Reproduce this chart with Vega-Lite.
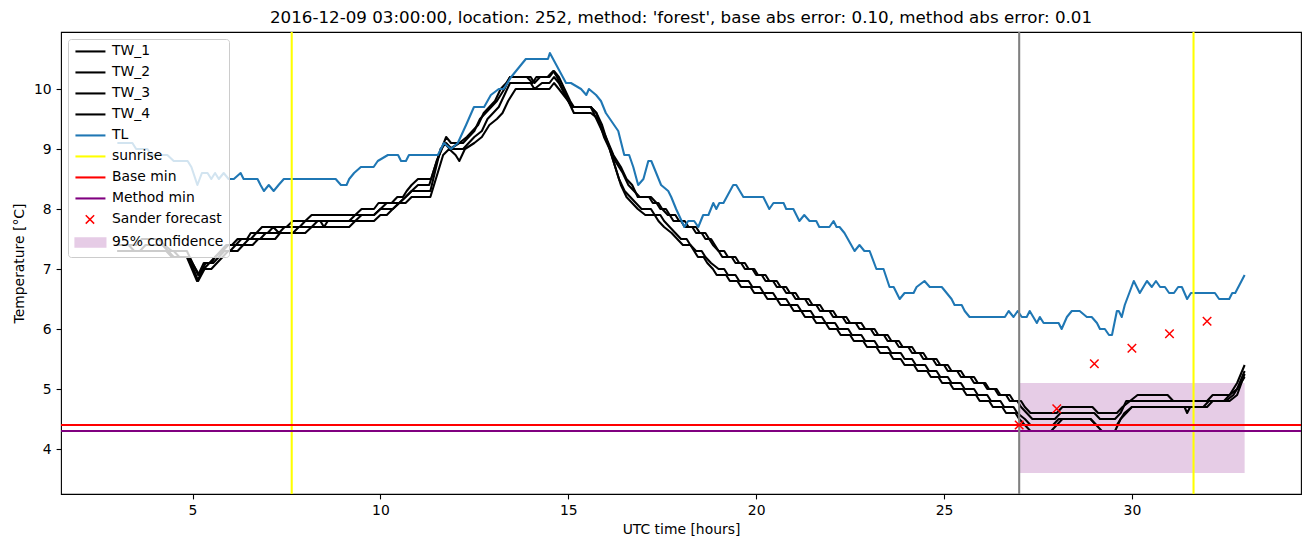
{
"$schema": "https://vega.github.io/schema/vega-lite/v6.json",
"width": 1240, "height": 462,
"autosize": {"type": "none"},
"padding": {"left": 61, "top": 32, "right": 9, "bottom": 53},
"title": {"text": "2016-12-09 03:00:00, location: 252, method: 'forest', base abs error: 0.10, method abs error: 0.01", "font": "DejaVu Sans", "fontSize": 16.7, "fontWeight": "normal", "color": "#000000", "offset": 5},
"config": {
  "view": {"stroke": "#000000", "strokeWidth": 1.1},
  "axis": {"labelFont": "DejaVu Sans", "labelFontSize": 13.9, "labelColor": "#000000", "titleFont": "DejaVu Sans", "titleFontSize": 13.9, "titleFontWeight": "normal", "titleColor": "#000000", "tickColor": "#000000", "tickSize": 4.9, "tickWidth": 1.1, "domain": false, "grid": false, "labelPadding": 4.9, "titlePadding": 5},
  "axisY": {"titlePadding": 7}
},
"datasets": {
"lines": [
{"s":"TW_1","h":3,"t":7.4},{"s":"TW_1","h":3.5,"t":7.4},{"s":"TW_1","h":3.65,"t":7.5},{"s":"TW_1","h":4.1,"t":7.5},{"s":"TW_1","h":4.25,"t":7.4},{"s":"TW_1","h":4.45,"t":7.3},{"s":"TW_1","h":4.85,"t":7.3},{"s":"TW_1","h":5.15,"t":6.9},{"s":"TW_1","h":5.3,"t":7.1},{"s":"TW_1","h":5.5,"t":7.1},{"s":"TW_1","h":5.6,"t":7.2},{"s":"TW_1","h":5.75,"t":7.3},{"s":"TW_1","h":5.9,"t":7.4},{"s":"TW_1","h":6.05,"t":7.4},{"s":"TW_1","h":6.2,"t":7.5},{"s":"TW_1","h":6.45,"t":7.5},{"s":"TW_1","h":6.55,"t":7.6},{"s":"TW_1","h":6.7,"t":7.6},{"s":"TW_1","h":6.85,"t":7.7},{"s":"TW_1","h":7.5,"t":7.7},{"s":"TW_1","h":7.67,"t":7.8},{"s":"TW_1","h":8,"t":7.8},{"s":"TW_1","h":8.17,"t":7.9},{"s":"TW_1","h":9.33,"t":7.9},{"s":"TW_1","h":9.5,"t":8},{"s":"TW_1","h":9.83,"t":8},{"s":"TW_1","h":9.95,"t":8.1},{"s":"TW_1","h":10.3,"t":8.1},{"s":"TW_1","h":10.45,"t":8.2},{"s":"TW_1","h":10.6,"t":8.2},{"s":"TW_1","h":10.7,"t":8.3},{"s":"TW_1","h":10.83,"t":8.4},{"s":"TW_1","h":11,"t":8.5},{"s":"TW_1","h":11.35,"t":8.5},{"s":"TW_1","h":11.5,"t":8.8},{"s":"TW_1","h":11.75,"t":9.2},{"s":"TW_1","h":11.88,"t":9.1},{"s":"TW_1","h":12.2,"t":9.1},{"s":"TW_1","h":12.35,"t":9.2},{"s":"TW_1","h":12.5,"t":9.3},{"s":"TW_1","h":12.65,"t":9.5},{"s":"TW_1","h":12.8,"t":9.6},{"s":"TW_1","h":12.95,"t":9.7},{"s":"TW_1","h":13.1,"t":9.8},{"s":"TW_1","h":13.2,"t":9.9},{"s":"TW_1","h":13.3,"t":10},{"s":"TW_1","h":13.45,"t":10.2},{"s":"TW_1","h":14,"t":10.2},{"s":"TW_1","h":14.1,"t":10.1},{"s":"TW_1","h":14.25,"t":10.2},{"s":"TW_1","h":14.5,"t":10.2},{"s":"TW_1","h":14.62,"t":10.3},{"s":"TW_1","h":14.75,"t":10.2},{"s":"TW_1","h":15.05,"t":9.8},{"s":"TW_1","h":15.15,"t":9.7},{"s":"TW_1","h":15.6,"t":9.7},{"s":"TW_1","h":15.75,"t":9.6},{"s":"TW_1","h":15.85,"t":9.4},{"s":"TW_1","h":16,"t":9.2},{"s":"TW_1","h":16.2,"t":8.9},{"s":"TW_1","h":16.4,"t":8.7},{"s":"TW_1","h":16.55,"t":8.5},{"s":"TW_1","h":16.7,"t":8.4},{"s":"TW_1","h":16.85,"t":8.2},{"s":"TW_1","h":17.2,"t":8.2},{"s":"TW_1","h":17.35,"t":8.1},{"s":"TW_1","h":17.45,"t":8},{"s":"TW_1","h":17.6,"t":8},{"s":"TW_1","h":17.7,"t":7.9},{"s":"TW_1","h":17.8,"t":7.8},{"s":"TW_1","h":18,"t":7.8},{"s":"TW_1","h":18.1,"t":7.7},{"s":"TW_1","h":18.3,"t":7.7},{"s":"TW_1","h":18.4,"t":7.6},{"s":"TW_1","h":18.55,"t":7.6},{"s":"TW_1","h":18.65,"t":7.5},{"s":"TW_1","h":18.8,"t":7.5},{"s":"TW_1","h":18.9,"t":7.4},{"s":"TW_1","h":19,"t":7.3},{"s":"TW_1","h":19.15,"t":7.3},{"s":"TW_1","h":19.25,"t":7.2},{"s":"TW_1","h":19.45,"t":7.2},{"s":"TW_1","h":19.55,"t":7.1},{"s":"TW_1","h":19.7,"t":7.1},{"s":"TW_1","h":19.8,"t":7},{"s":"TW_1","h":19.95,"t":7},{"s":"TW_1","h":20.05,"t":6.9},{"s":"TW_1","h":20.25,"t":6.9},{"s":"TW_1","h":20.35,"t":6.8},{"s":"TW_1","h":20.55,"t":6.8},{"s":"TW_1","h":20.65,"t":6.7},{"s":"TW_1","h":20.8,"t":6.7},{"s":"TW_1","h":20.9,"t":6.6},{"s":"TW_1","h":21.05,"t":6.6},{"s":"TW_1","h":21.15,"t":6.5},{"s":"TW_1","h":21.4,"t":6.5},{"s":"TW_1","h":21.5,"t":6.4},{"s":"TW_1","h":21.7,"t":6.4},{"s":"TW_1","h":21.8,"t":6.3},{"s":"TW_1","h":22.05,"t":6.3},{"s":"TW_1","h":22.15,"t":6.2},{"s":"TW_1","h":22.4,"t":6.2},{"s":"TW_1","h":22.5,"t":6.1},{"s":"TW_1","h":22.8,"t":6.1},{"s":"TW_1","h":22.9,"t":6},{"s":"TW_1","h":23.15,"t":6},{"s":"TW_1","h":23.25,"t":5.9},{"s":"TW_1","h":23.5,"t":5.9},{"s":"TW_1","h":23.6,"t":5.8},{"s":"TW_1","h":23.8,"t":5.8},{"s":"TW_1","h":23.9,"t":5.7},{"s":"TW_1","h":24.15,"t":5.7},{"s":"TW_1","h":24.25,"t":5.6},{"s":"TW_1","h":24.45,"t":5.6},{"s":"TW_1","h":24.55,"t":5.5},{"s":"TW_1","h":24.8,"t":5.5},{"s":"TW_1","h":24.9,"t":5.4},{"s":"TW_1","h":25.1,"t":5.4},{"s":"TW_1","h":25.2,"t":5.3},{"s":"TW_1","h":25.45,"t":5.3},{"s":"TW_1","h":25.55,"t":5.2},{"s":"TW_1","h":25.8,"t":5.2},{"s":"TW_1","h":25.9,"t":5.1},{"s":"TW_1","h":26.1,"t":5.1},{"s":"TW_1","h":26.2,"t":5},{"s":"TW_1","h":26.4,"t":5},{"s":"TW_1","h":26.5,"t":4.9},{"s":"TW_1","h":26.75,"t":4.9},{"s":"TW_1","h":26.85,"t":4.8},{"s":"TW_1","h":27.05,"t":4.8},{"s":"TW_1","h":27.15,"t":4.7},{"s":"TW_1","h":27.3,"t":4.6},{"s":"TW_1","h":28,"t":4.6},{"s":"TW_1","h":28.15,"t":4.7},{"s":"TW_1","h":28.95,"t":4.7},{"s":"TW_1","h":29.1,"t":4.6},{"s":"TW_1","h":29.6,"t":4.6},{"s":"TW_1","h":29.75,"t":4.7},{"s":"TW_1","h":29.95,"t":4.8},{"s":"TW_1","h":30.15,"t":4.9},{"s":"TW_1","h":30.95,"t":4.9},{"s":"TW_1","h":31.1,"t":4.8},{"s":"TW_1","h":32,"t":4.8},{"s":"TW_1","h":32.15,"t":4.9},{"s":"TW_1","h":32.6,"t":4.9},{"s":"TW_1","h":32.8,"t":5.1},{"s":"TW_1","h":33,"t":5.4},
{"s":"TW_2","h":3,"t":7.3},{"s":"TW_2","h":3.6,"t":7.3},{"s":"TW_2","h":3.75,"t":7.4},{"s":"TW_2","h":4.2,"t":7.4},{"s":"TW_2","h":4.35,"t":7.3},{"s":"TW_2","h":4.5,"t":7.2},{"s":"TW_2","h":4.85,"t":7.2},{"s":"TW_2","h":5.12,"t":6.8},{"s":"TW_2","h":5.3,"t":7},{"s":"TW_2","h":5.45,"t":7.1},{"s":"TW_2","h":5.6,"t":7.2},{"s":"TW_2","h":5.8,"t":7.3},{"s":"TW_2","h":5.95,"t":7.4},{"s":"TW_2","h":6.15,"t":7.4},{"s":"TW_2","h":6.3,"t":7.5},{"s":"TW_2","h":6.55,"t":7.5},{"s":"TW_2","h":6.7,"t":7.6},{"s":"TW_2","h":7,"t":7.6},{"s":"TW_2","h":7.15,"t":7.7},{"s":"TW_2","h":7.3,"t":7.6},{"s":"TW_2","h":7.45,"t":7.7},{"s":"TW_2","h":7.85,"t":7.7},{"s":"TW_2","h":8,"t":7.8},{"s":"TW_2","h":8.4,"t":7.8},{"s":"TW_2","h":8.5,"t":7.7},{"s":"TW_2","h":8.6,"t":7.8},{"s":"TW_2","h":9.17,"t":7.8},{"s":"TW_2","h":9.33,"t":7.9},{"s":"TW_2","h":9.83,"t":7.9},{"s":"TW_2","h":10,"t":8},{"s":"TW_2","h":10.33,"t":8},{"s":"TW_2","h":10.5,"t":8.1},{"s":"TW_2","h":10.67,"t":8.2},{"s":"TW_2","h":10.83,"t":8.3},{"s":"TW_2","h":11,"t":8.4},{"s":"TW_2","h":11.3,"t":8.4},{"s":"TW_2","h":11.5,"t":8.8},{"s":"TW_2","h":11.7,"t":9.1},{"s":"TW_2","h":11.85,"t":9},{"s":"TW_2","h":12.1,"t":9.1},{"s":"TW_2","h":12.3,"t":9.2},{"s":"TW_2","h":12.45,"t":9.3},{"s":"TW_2","h":12.6,"t":9.4},{"s":"TW_2","h":12.75,"t":9.6},{"s":"TW_2","h":12.9,"t":9.7},{"s":"TW_2","h":13.05,"t":9.8},{"s":"TW_2","h":13.2,"t":10},{"s":"TW_2","h":13.35,"t":10.1},{"s":"TW_2","h":13.45,"t":10.2},{"s":"TW_2","h":13.9,"t":10.2},{"s":"TW_2","h":14.05,"t":10.1},{"s":"TW_2","h":14.15,"t":10.2},{"s":"TW_2","h":14.45,"t":10.2},{"s":"TW_2","h":14.6,"t":10.3},{"s":"TW_2","h":14.7,"t":10.2},{"s":"TW_2","h":15,"t":9.8},{"s":"TW_2","h":15.1,"t":9.7},{"s":"TW_2","h":15.6,"t":9.7},{"s":"TW_2","h":15.75,"t":9.5},{"s":"TW_2","h":15.9,"t":9.3},{"s":"TW_2","h":16.05,"t":9.1},{"s":"TW_2","h":16.25,"t":8.8},{"s":"TW_2","h":16.45,"t":8.6},{"s":"TW_2","h":16.6,"t":8.4},{"s":"TW_2","h":16.75,"t":8.3},{"s":"TW_2","h":16.9,"t":8.2},{"s":"TW_2","h":17.15,"t":8.2},{"s":"TW_2","h":17.25,"t":8.1},{"s":"TW_2","h":17.4,"t":8.1},{"s":"TW_2","h":17.5,"t":8},{"s":"TW_2","h":17.65,"t":7.9},{"s":"TW_2","h":17.85,"t":7.9},{"s":"TW_2","h":17.95,"t":7.8},{"s":"TW_2","h":18.1,"t":7.8},{"s":"TW_2","h":18.2,"t":7.7},{"s":"TW_2","h":18.4,"t":7.7},{"s":"TW_2","h":18.5,"t":7.6},{"s":"TW_2","h":18.65,"t":7.6},{"s":"TW_2","h":18.75,"t":7.5},{"s":"TW_2","h":18.85,"t":7.4},{"s":"TW_2","h":19,"t":7.3},{"s":"TW_2","h":19.1,"t":7.2},{"s":"TW_2","h":19.35,"t":7.2},{"s":"TW_2","h":19.45,"t":7.1},{"s":"TW_2","h":19.6,"t":7.1},{"s":"TW_2","h":19.7,"t":7},{"s":"TW_2","h":19.9,"t":7},{"s":"TW_2","h":20,"t":6.9},{"s":"TW_2","h":20.15,"t":6.9},{"s":"TW_2","h":20.25,"t":6.8},{"s":"TW_2","h":20.45,"t":6.8},{"s":"TW_2","h":20.55,"t":6.7},{"s":"TW_2","h":20.7,"t":6.7},{"s":"TW_2","h":20.8,"t":6.6},{"s":"TW_2","h":20.95,"t":6.6},{"s":"TW_2","h":21.05,"t":6.5},{"s":"TW_2","h":21.3,"t":6.5},{"s":"TW_2","h":21.4,"t":6.4},{"s":"TW_2","h":21.6,"t":6.4},{"s":"TW_2","h":21.7,"t":6.3},{"s":"TW_2","h":21.95,"t":6.3},{"s":"TW_2","h":22.05,"t":6.2},{"s":"TW_2","h":22.3,"t":6.2},{"s":"TW_2","h":22.4,"t":6.1},{"s":"TW_2","h":22.65,"t":6.1},{"s":"TW_2","h":22.75,"t":6},{"s":"TW_2","h":23.05,"t":6},{"s":"TW_2","h":23.15,"t":5.9},{"s":"TW_2","h":23.4,"t":5.9},{"s":"TW_2","h":23.5,"t":5.8},{"s":"TW_2","h":23.7,"t":5.8},{"s":"TW_2","h":23.8,"t":5.7},{"s":"TW_2","h":24.05,"t":5.7},{"s":"TW_2","h":24.15,"t":5.6},{"s":"TW_2","h":24.35,"t":5.6},{"s":"TW_2","h":24.45,"t":5.5},{"s":"TW_2","h":24.7,"t":5.5},{"s":"TW_2","h":24.8,"t":5.4},{"s":"TW_2","h":25,"t":5.4},{"s":"TW_2","h":25.1,"t":5.3},{"s":"TW_2","h":25.35,"t":5.3},{"s":"TW_2","h":25.45,"t":5.2},{"s":"TW_2","h":25.7,"t":5.2},{"s":"TW_2","h":25.8,"t":5.1},{"s":"TW_2","h":26.05,"t":5.1},{"s":"TW_2","h":26.15,"t":5},{"s":"TW_2","h":26.35,"t":5},{"s":"TW_2","h":26.45,"t":4.9},{"s":"TW_2","h":26.65,"t":4.9},{"s":"TW_2","h":26.75,"t":4.8},{"s":"TW_2","h":26.95,"t":4.8},{"s":"TW_2","h":27.05,"t":4.7},{"s":"TW_2","h":27.2,"t":4.6},{"s":"TW_2","h":27.35,"t":4.5},{"s":"TW_2","h":27.95,"t":4.5},{"s":"TW_2","h":28.1,"t":4.6},{"s":"TW_2","h":29,"t":4.6},{"s":"TW_2","h":29.15,"t":4.5},{"s":"TW_2","h":29.55,"t":4.5},{"s":"TW_2","h":29.7,"t":4.6},{"s":"TW_2","h":29.85,"t":4.8},{"s":"TW_2","h":32.45,"t":4.8},{"s":"TW_2","h":32.6,"t":4.9},{"s":"TW_2","h":32.8,"t":5},{"s":"TW_2","h":33,"t":5.3},
{"s":"TW_3","h":3,"t":7.4},{"s":"TW_3","h":3.3,"t":7.4},{"s":"TW_3","h":3.45,"t":7.3},{"s":"TW_3","h":4.3,"t":7.3},{"s":"TW_3","h":4.45,"t":7.2},{"s":"TW_3","h":4.9,"t":7.2},{"s":"TW_3","h":5.18,"t":6.9},{"s":"TW_3","h":5.35,"t":7.1},{"s":"TW_3","h":5.55,"t":7.1},{"s":"TW_3","h":5.7,"t":7.2},{"s":"TW_3","h":5.85,"t":7.3},{"s":"TW_3","h":6,"t":7.3},{"s":"TW_3","h":6.15,"t":7.4},{"s":"TW_3","h":6.35,"t":7.4},{"s":"TW_3","h":6.5,"t":7.5},{"s":"TW_3","h":6.8,"t":7.5},{"s":"TW_3","h":6.95,"t":7.6},{"s":"TW_3","h":7.67,"t":7.6},{"s":"TW_3","h":7.83,"t":7.7},{"s":"TW_3","h":8.17,"t":7.7},{"s":"TW_3","h":8.33,"t":7.8},{"s":"TW_3","h":9.33,"t":7.8},{"s":"TW_3","h":9.5,"t":7.9},{"s":"TW_3","h":9.83,"t":7.9},{"s":"TW_3","h":10,"t":8},{"s":"TW_3","h":10.17,"t":8.1},{"s":"TW_3","h":10.5,"t":8.1},{"s":"TW_3","h":10.67,"t":8.2},{"s":"TW_3","h":10.83,"t":8.3},{"s":"TW_3","h":11.33,"t":8.3},{"s":"TW_3","h":11.6,"t":9},{"s":"TW_3","h":11.75,"t":9.1},{"s":"TW_3","h":11.9,"t":9},{"s":"TW_3","h":12.2,"t":9},{"s":"TW_3","h":12.35,"t":9.1},{"s":"TW_3","h":12.5,"t":9.2},{"s":"TW_3","h":12.7,"t":9.3},{"s":"TW_3","h":12.85,"t":9.5},{"s":"TW_3","h":13,"t":9.6},{"s":"TW_3","h":13.15,"t":9.7},{"s":"TW_3","h":13.3,"t":9.9},{"s":"TW_3","h":13.45,"t":10.1},{"s":"TW_3","h":14,"t":10.1},{"s":"TW_3","h":14.1,"t":10},{"s":"TW_3","h":14.3,"t":10.1},{"s":"TW_3","h":14.5,"t":10.1},{"s":"TW_3","h":14.62,"t":10.2},{"s":"TW_3","h":14.75,"t":10.1},{"s":"TW_3","h":15,"t":9.8},{"s":"TW_3","h":15.1,"t":9.7},{"s":"TW_3","h":15.6,"t":9.7},{"s":"TW_3","h":15.75,"t":9.6},{"s":"TW_3","h":15.9,"t":9.4},{"s":"TW_3","h":16.05,"t":9.1},{"s":"TW_3","h":16.2,"t":8.8},{"s":"TW_3","h":16.35,"t":8.5},{"s":"TW_3","h":16.5,"t":8.3},{"s":"TW_3","h":16.65,"t":8.2},{"s":"TW_3","h":16.8,"t":8.1},{"s":"TW_3","h":16.95,"t":8},{"s":"TW_3","h":17.2,"t":8},{"s":"TW_3","h":17.3,"t":7.9},{"s":"TW_3","h":17.45,"t":7.9},{"s":"TW_3","h":17.55,"t":7.8},{"s":"TW_3","h":17.7,"t":7.7},{"s":"TW_3","h":17.85,"t":7.6},{"s":"TW_3","h":18,"t":7.5},{"s":"TW_3","h":18.15,"t":7.5},{"s":"TW_3","h":18.25,"t":7.4},{"s":"TW_3","h":18.4,"t":7.3},{"s":"TW_3","h":18.55,"t":7.3},{"s":"TW_3","h":18.65,"t":7.2},{"s":"TW_3","h":18.8,"t":7.1},{"s":"TW_3","h":19,"t":7},{"s":"TW_3","h":19.15,"t":7},{"s":"TW_3","h":19.25,"t":6.9},{"s":"TW_3","h":19.45,"t":6.9},{"s":"TW_3","h":19.55,"t":6.8},{"s":"TW_3","h":19.8,"t":6.8},{"s":"TW_3","h":19.9,"t":6.7},{"s":"TW_3","h":20.1,"t":6.7},{"s":"TW_3","h":20.2,"t":6.6},{"s":"TW_3","h":20.45,"t":6.6},{"s":"TW_3","h":20.55,"t":6.5},{"s":"TW_3","h":20.8,"t":6.5},{"s":"TW_3","h":20.9,"t":6.4},{"s":"TW_3","h":21.1,"t":6.4},{"s":"TW_3","h":21.2,"t":6.3},{"s":"TW_3","h":21.45,"t":6.3},{"s":"TW_3","h":21.55,"t":6.2},{"s":"TW_3","h":21.75,"t":6.2},{"s":"TW_3","h":21.85,"t":6.1},{"s":"TW_3","h":22.1,"t":6.1},{"s":"TW_3","h":22.2,"t":6},{"s":"TW_3","h":22.45,"t":6},{"s":"TW_3","h":22.55,"t":5.9},{"s":"TW_3","h":22.8,"t":5.9},{"s":"TW_3","h":22.9,"t":5.8},{"s":"TW_3","h":23.15,"t":5.8},{"s":"TW_3","h":23.25,"t":5.7},{"s":"TW_3","h":23.5,"t":5.7},{"s":"TW_3","h":23.6,"t":5.6},{"s":"TW_3","h":23.85,"t":5.6},{"s":"TW_3","h":23.95,"t":5.5},{"s":"TW_3","h":24.15,"t":5.5},{"s":"TW_3","h":24.25,"t":5.4},{"s":"TW_3","h":24.5,"t":5.4},{"s":"TW_3","h":24.6,"t":5.3},{"s":"TW_3","h":24.8,"t":5.3},{"s":"TW_3","h":24.9,"t":5.2},{"s":"TW_3","h":25.1,"t":5.2},{"s":"TW_3","h":25.2,"t":5.1},{"s":"TW_3","h":25.45,"t":5.1},{"s":"TW_3","h":25.55,"t":5},{"s":"TW_3","h":25.8,"t":5},{"s":"TW_3","h":25.9,"t":4.9},{"s":"TW_3","h":26.15,"t":4.9},{"s":"TW_3","h":26.25,"t":4.8},{"s":"TW_3","h":26.5,"t":4.8},{"s":"TW_3","h":26.6,"t":4.7},{"s":"TW_3","h":26.85,"t":4.7},{"s":"TW_3","h":26.95,"t":4.6},{"s":"TW_3","h":27.15,"t":4.5},{"s":"TW_3","h":27.3,"t":4.4},{"s":"TW_3","h":27.9,"t":4.4},{"s":"TW_3","h":28.05,"t":4.5},{"s":"TW_3","h":28.9,"t":4.5},{"s":"TW_3","h":29.05,"t":4.4},{"s":"TW_3","h":29.6,"t":4.4},{"s":"TW_3","h":29.8,"t":4.6},{"s":"TW_3","h":30,"t":4.7},{"s":"TW_3","h":31.4,"t":4.7},{"s":"TW_3","h":31.47,"t":4.6},{"s":"TW_3","h":31.55,"t":4.7},{"s":"TW_3","h":32,"t":4.7},{"s":"TW_3","h":32.15,"t":4.8},{"s":"TW_3","h":32.6,"t":4.8},{"s":"TW_3","h":32.8,"t":4.9},{"s":"TW_3","h":33,"t":5.25},
{"s":"TW_4","h":3,"t":7.3},{"s":"TW_4","h":4.5,"t":7.3},{"s":"TW_4","h":4.65,"t":7.2},{"s":"TW_4","h":4.9,"t":7.2},{"s":"TW_4","h":5.15,"t":6.8},{"s":"TW_4","h":5.32,"t":7},{"s":"TW_4","h":5.5,"t":7},{"s":"TW_4","h":5.65,"t":7.1},{"s":"TW_4","h":5.8,"t":7.2},{"s":"TW_4","h":5.95,"t":7.3},{"s":"TW_4","h":6.2,"t":7.3},{"s":"TW_4","h":6.35,"t":7.4},{"s":"TW_4","h":6.6,"t":7.4},{"s":"TW_4","h":6.75,"t":7.5},{"s":"TW_4","h":7.2,"t":7.5},{"s":"TW_4","h":7.33,"t":7.6},{"s":"TW_4","h":8,"t":7.6},{"s":"TW_4","h":8.17,"t":7.7},{"s":"TW_4","h":9.17,"t":7.7},{"s":"TW_4","h":9.33,"t":7.8},{"s":"TW_4","h":9.83,"t":7.8},{"s":"TW_4","h":10,"t":7.9},{"s":"TW_4","h":10.17,"t":7.9},{"s":"TW_4","h":10.33,"t":8},{"s":"TW_4","h":10.5,"t":8.1},{"s":"TW_4","h":10.67,"t":8.1},{"s":"TW_4","h":10.83,"t":8.2},{"s":"TW_4","h":11.33,"t":8.2},{"s":"TW_4","h":11.67,"t":8.9},{"s":"TW_4","h":11.83,"t":9},{"s":"TW_4","h":12,"t":8.9},{"s":"TW_4","h":12.1,"t":8.8},{"s":"TW_4","h":12.25,"t":9},{"s":"TW_4","h":12.5,"t":9.1},{"s":"TW_4","h":12.7,"t":9.2},{"s":"TW_4","h":12.9,"t":9.4},{"s":"TW_4","h":13.1,"t":9.5},{"s":"TW_4","h":13.25,"t":9.6},{"s":"TW_4","h":13.4,"t":9.8},{"s":"TW_4","h":13.6,"t":10},{"s":"TW_4","h":14.5,"t":10},{"s":"TW_4","h":14.62,"t":10.1},{"s":"TW_4","h":14.75,"t":10},{"s":"TW_4","h":15,"t":9.8},{"s":"TW_4","h":15.15,"t":9.6},{"s":"TW_4","h":15.6,"t":9.6},{"s":"TW_4","h":15.8,"t":9.5},{"s":"TW_4","h":15.95,"t":9.2},{"s":"TW_4","h":16.1,"t":9},{"s":"TW_4","h":16.25,"t":8.7},{"s":"TW_4","h":16.4,"t":8.4},{"s":"TW_4","h":16.55,"t":8.2},{"s":"TW_4","h":16.7,"t":8.1},{"s":"TW_4","h":16.85,"t":8},{"s":"TW_4","h":17.05,"t":7.9},{"s":"TW_4","h":17.3,"t":7.9},{"s":"TW_4","h":17.4,"t":7.8},{"s":"TW_4","h":17.55,"t":7.7},{"s":"TW_4","h":17.75,"t":7.6},{"s":"TW_4","h":17.9,"t":7.5},{"s":"TW_4","h":18.05,"t":7.4},{"s":"TW_4","h":18.25,"t":7.4},{"s":"TW_4","h":18.35,"t":7.3},{"s":"TW_4","h":18.45,"t":7.2},{"s":"TW_4","h":18.6,"t":7.2},{"s":"TW_4","h":18.7,"t":7.1},{"s":"TW_4","h":18.85,"t":7},{"s":"TW_4","h":18.95,"t":6.9},{"s":"TW_4","h":19.2,"t":6.9},{"s":"TW_4","h":19.3,"t":6.8},{"s":"TW_4","h":19.5,"t":6.8},{"s":"TW_4","h":19.6,"t":6.7},{"s":"TW_4","h":19.85,"t":6.7},{"s":"TW_4","h":19.95,"t":6.6},{"s":"TW_4","h":20.2,"t":6.6},{"s":"TW_4","h":20.3,"t":6.5},{"s":"TW_4","h":20.55,"t":6.5},{"s":"TW_4","h":20.65,"t":6.4},{"s":"TW_4","h":20.9,"t":6.4},{"s":"TW_4","h":21,"t":6.3},{"s":"TW_4","h":21.2,"t":6.3},{"s":"TW_4","h":21.3,"t":6.2},{"s":"TW_4","h":21.5,"t":6.2},{"s":"TW_4","h":21.6,"t":6.1},{"s":"TW_4","h":21.85,"t":6.1},{"s":"TW_4","h":21.95,"t":6},{"s":"TW_4","h":22.15,"t":6},{"s":"TW_4","h":22.25,"t":5.9},{"s":"TW_4","h":22.5,"t":5.9},{"s":"TW_4","h":22.6,"t":5.8},{"s":"TW_4","h":22.85,"t":5.8},{"s":"TW_4","h":22.95,"t":5.7},{"s":"TW_4","h":23.2,"t":5.7},{"s":"TW_4","h":23.3,"t":5.6},{"s":"TW_4","h":23.55,"t":5.6},{"s":"TW_4","h":23.65,"t":5.5},{"s":"TW_4","h":23.85,"t":5.5},{"s":"TW_4","h":23.95,"t":5.4},{"s":"TW_4","h":24.2,"t":5.4},{"s":"TW_4","h":24.3,"t":5.3},{"s":"TW_4","h":24.55,"t":5.3},{"s":"TW_4","h":24.65,"t":5.2},{"s":"TW_4","h":24.85,"t":5.2},{"s":"TW_4","h":24.95,"t":5.1},{"s":"TW_4","h":25.15,"t":5.1},{"s":"TW_4","h":25.25,"t":5},{"s":"TW_4","h":25.5,"t":5},{"s":"TW_4","h":25.6,"t":4.9},{"s":"TW_4","h":25.85,"t":4.9},{"s":"TW_4","h":25.95,"t":4.8},{"s":"TW_4","h":26.2,"t":4.8},{"s":"TW_4","h":26.3,"t":4.7},{"s":"TW_4","h":26.55,"t":4.7},{"s":"TW_4","h":26.65,"t":4.6},{"s":"TW_4","h":26.9,"t":4.6},{"s":"TW_4","h":27,"t":4.5},{"s":"TW_4","h":27.15,"t":4.4},{"s":"TW_4","h":27.3,"t":4.3},{"s":"TW_4","h":27.85,"t":4.3},{"s":"TW_4","h":28,"t":4.4},{"s":"TW_4","h":28.15,"t":4.5},{"s":"TW_4","h":28.9,"t":4.5},{"s":"TW_4","h":29.05,"t":4.4},{"s":"TW_4","h":29.2,"t":4.3},{"s":"TW_4","h":29.55,"t":4.3},{"s":"TW_4","h":29.7,"t":4.5},{"s":"TW_4","h":29.85,"t":4.6},{"s":"TW_4","h":30,"t":4.7},{"s":"TW_4","h":31.9,"t":4.7},{"s":"TW_4","h":32.05,"t":4.8},{"s":"TW_4","h":32.5,"t":4.8},{"s":"TW_4","h":32.7,"t":4.9},{"s":"TW_4","h":33,"t":5.2},
{"s":"TL","h":3,"t":9.1},{"s":"TL","h":3.4,"t":9.1},{"s":"TL","h":3.5,"t":9},{"s":"TL","h":3.8,"t":9},{"s":"TL","h":3.9,"t":8.9},{"s":"TL","h":4.33,"t":8.9},{"s":"TL","h":4.5,"t":8.8},{"s":"TL","h":4.87,"t":8.8},{"s":"TL","h":4.97,"t":8.7},{"s":"TL","h":5.13,"t":8.4},{"s":"TL","h":5.25,"t":8.6},{"s":"TL","h":5.4,"t":8.6},{"s":"TL","h":5.5,"t":8.5},{"s":"TL","h":5.6,"t":8.6},{"s":"TL","h":5.7,"t":8.5},{"s":"TL","h":5.83,"t":8.6},{"s":"TL","h":5.96,"t":8.5},{"s":"TL","h":6.1,"t":8.5},{"s":"TL","h":6.28,"t":8.6},{"s":"TL","h":6.36,"t":8.5},{"s":"TL","h":6.73,"t":8.5},{"s":"TL","h":6.81,"t":8.4},{"s":"TL","h":6.9,"t":8.3},{"s":"TL","h":7.03,"t":8.4},{"s":"TL","h":7.16,"t":8.3},{"s":"TL","h":7.29,"t":8.4},{"s":"TL","h":7.43,"t":8.5},{"s":"TL","h":8.81,"t":8.5},{"s":"TL","h":8.95,"t":8.4},{"s":"TL","h":9.1,"t":8.4},{"s":"TL","h":9.17,"t":8.5},{"s":"TL","h":9.3,"t":8.6},{"s":"TL","h":9.48,"t":8.7},{"s":"TL","h":9.82,"t":8.7},{"s":"TL","h":9.93,"t":8.8},{"s":"TL","h":10.2,"t":8.9},{"s":"TL","h":10.47,"t":8.9},{"s":"TL","h":10.55,"t":8.8},{"s":"TL","h":10.68,"t":8.8},{"s":"TL","h":10.76,"t":8.9},{"s":"TL","h":11.53,"t":8.9},{"s":"TL","h":11.69,"t":9.1},{"s":"TL","h":11.88,"t":9},{"s":"TL","h":12.06,"t":9.1},{"s":"TL","h":12.28,"t":9.4},{"s":"TL","h":12.49,"t":9.7},{"s":"TL","h":12.76,"t":9.7},{"s":"TL","h":12.94,"t":9.9},{"s":"TL","h":13.15,"t":10},{"s":"TL","h":13.28,"t":10},{"s":"TL","h":13.48,"t":10.2},{"s":"TL","h":13.74,"t":10.4},{"s":"TL","h":13.87,"t":10.5},{"s":"TL","h":14.46,"t":10.5},{"s":"TL","h":14.51,"t":10.6},{"s":"TL","h":14.94,"t":10.1},{"s":"TL","h":15.07,"t":10.1},{"s":"TL","h":15.34,"t":10},{"s":"TL","h":15.48,"t":9.9},{"s":"TL","h":15.55,"t":10},{"s":"TL","h":15.74,"t":9.9},{"s":"TL","h":15.87,"t":9.8},{"s":"TL","h":16,"t":9.6},{"s":"TL","h":16.33,"t":9.3},{"s":"TL","h":16.49,"t":8.9},{"s":"TL","h":16.62,"t":8.9},{"s":"TL","h":16.73,"t":8.7},{"s":"TL","h":16.86,"t":8.4},{"s":"TL","h":17,"t":8.5},{"s":"TL","h":17.13,"t":8.8},{"s":"TL","h":17.21,"t":8.8},{"s":"TL","h":17.34,"t":8.6},{"s":"TL","h":17.47,"t":8.4},{"s":"TL","h":17.66,"t":8.3},{"s":"TL","h":17.74,"t":8.2},{"s":"TL","h":17.87,"t":8},{"s":"TL","h":18.09,"t":7.7},{"s":"TL","h":18.19,"t":7.8},{"s":"TL","h":18.35,"t":7.8},{"s":"TL","h":18.46,"t":7.7},{"s":"TL","h":18.59,"t":7.9},{"s":"TL","h":18.73,"t":7.9},{"s":"TL","h":18.86,"t":8.1},{"s":"TL","h":18.94,"t":8},{"s":"TL","h":19.02,"t":8.1},{"s":"TL","h":19.13,"t":8.1},{"s":"TL","h":19.39,"t":8.4},{"s":"TL","h":19.47,"t":8.4},{"s":"TL","h":19.66,"t":8.2},{"s":"TL","h":20.19,"t":8.2},{"s":"TL","h":20.35,"t":8},{"s":"TL","h":20.46,"t":8.1},{"s":"TL","h":20.73,"t":8.1},{"s":"TL","h":20.8,"t":8},{"s":"TL","h":20.99,"t":8},{"s":"TL","h":21.15,"t":7.8},{"s":"TL","h":21.28,"t":7.9},{"s":"TL","h":21.42,"t":7.8},{"s":"TL","h":21.6,"t":7.8},{"s":"TL","h":21.68,"t":7.7},{"s":"TL","h":21.95,"t":7.7},{"s":"TL","h":22.06,"t":7.8},{"s":"TL","h":22.14,"t":7.7},{"s":"TL","h":22.22,"t":7.7},{"s":"TL","h":22.35,"t":7.6},{"s":"TL","h":22.62,"t":7.3},{"s":"TL","h":22.75,"t":7.4},{"s":"TL","h":22.88,"t":7.3},{"s":"TL","h":23.02,"t":7.3},{"s":"TL","h":23.2,"t":7},{"s":"TL","h":23.39,"t":7},{"s":"TL","h":23.55,"t":6.7},{"s":"TL","h":23.66,"t":6.7},{"s":"TL","h":23.82,"t":6.5},{"s":"TL","h":23.95,"t":6.6},{"s":"TL","h":24.19,"t":6.6},{"s":"TL","h":24.27,"t":6.7},{"s":"TL","h":24.48,"t":6.8},{"s":"TL","h":24.62,"t":6.7},{"s":"TL","h":24.94,"t":6.7},{"s":"TL","h":25.07,"t":6.6},{"s":"TL","h":25.2,"t":6.5},{"s":"TL","h":25.28,"t":6.4},{"s":"TL","h":25.47,"t":6.4},{"s":"TL","h":25.55,"t":6.3},{"s":"TL","h":25.68,"t":6.2},{"s":"TL","h":26.62,"t":6.2},{"s":"TL","h":26.72,"t":6.3},{"s":"TL","h":26.85,"t":6.2},{"s":"TL","h":26.96,"t":6.3},{"s":"TL","h":27.07,"t":6.2},{"s":"TL","h":27.2,"t":6.2},{"s":"TL","h":27.28,"t":6.3},{"s":"TL","h":27.47,"t":6.1},{"s":"TL","h":27.55,"t":6.2},{"s":"TL","h":27.65,"t":6.1},{"s":"TL","h":28.05,"t":6.1},{"s":"TL","h":28.13,"t":6},{"s":"TL","h":28.27,"t":6.2},{"s":"TL","h":28.4,"t":6.3},{"s":"TL","h":28.61,"t":6.3},{"s":"TL","h":28.8,"t":6.2},{"s":"TL","h":28.93,"t":6.2},{"s":"TL","h":29.07,"t":6.1},{"s":"TL","h":29.15,"t":6},{"s":"TL","h":29.28,"t":6},{"s":"TL","h":29.39,"t":5.9},{"s":"TL","h":29.47,"t":5.9},{"s":"TL","h":29.6,"t":6.3},{"s":"TL","h":29.65,"t":6.3},{"s":"TL","h":29.73,"t":6.2},{"s":"TL","h":29.81,"t":6.4},{"s":"TL","h":30.05,"t":6.8},{"s":"TL","h":30.21,"t":6.6},{"s":"TL","h":30.4,"t":6.8},{"s":"TL","h":30.53,"t":6.7},{"s":"TL","h":30.64,"t":6.8},{"s":"TL","h":30.75,"t":6.7},{"s":"TL","h":30.88,"t":6.7},{"s":"TL","h":30.99,"t":6.6},{"s":"TL","h":31.12,"t":6.6},{"s":"TL","h":31.23,"t":6.7},{"s":"TL","h":31.33,"t":6.7},{"s":"TL","h":31.47,"t":6.5},{"s":"TL","h":31.57,"t":6.6},{"s":"TL","h":32.21,"t":6.6},{"s":"TL","h":32.32,"t":6.5},{"s":"TL","h":32.59,"t":6.5},{"s":"TL","h":32.67,"t":6.6},{"s":"TL","h":32.75,"t":6.6},{"s":"TL","h":33,"t":6.9}
],
"sunrise": [{"s":"sunrise","h":7.64},{"s":"sunrise","h":31.64}],
"hmin": [{"s":"Base min","t":4.4},{"s":"Method min","t":4.3}],
"grey": [{"h":27}],
"sander": [{"s":"Sander forecast","h":27,"t":4.4},{"s":"Sander forecast","h":28,"t":4.67},{"s":"Sander forecast","h":29,"t":5.42},{"s":"Sander forecast","h":30,"t":5.68},{"s":"Sander forecast","h":31,"t":5.92},{"s":"Sander forecast","h":32,"t":6.13}],
"conf": [{"s":"95% confidence","h":27,"h2":33,"lo":3.6,"hi":5.1}]
},
"layer": [
{"data": {"name": "conf"}, "mark": {"type": "rect", "clip": true},
 "encoding": {
  "x": {"field": "h", "type": "quantitative", "title": "UTC time [hours]", "scale": {"domain": [1.5, 34.5], "nice": false, "zero": false}, "axis": {"values": [5,10,15,20,25,30], "format": "d"}},
  "x2": {"field": "h2"},
  "y": {"field": "lo", "type": "quantitative", "title": "Temperature [°C]", "scale": {"domain": [3.25, 10.95], "nice": false, "zero": false}, "axis": {"values": [4,5,6,7,8,9,10], "format": "d"}},
  "y2": {"field": "hi"},
  "color": {"field": "s", "type": "nominal",
    "scale": {"domain": ["TW_1","TW_2","TW_3","TW_4","TL","sunrise","Base min","Method min","Sander forecast","95% confidence"], "range": ["#000000","#000000","#000000","#000000","#1f77b4","#ffff00","#ff0000","#800080","#ff0000","#e6cce6"]},
    "legend": {"title": null, "orient": "none", "legendX": 7, "legendY": 7, "direction": "vertical", "columns": 1, "symbolSize": 100, "labelFont": "DejaVu Sans", "labelFontSize": 13.9, "labelColor": "#000000", "labelOffset": 24.6, "labelLimit": 400, "rowPadding": 6, "padding": 5.5, "fillColor": "rgba(255,255,255,0.8)", "strokeColor": "#cccccc", "cornerRadius": 3,
      "encode": {"symbols": {"update": {
        "shape": {"signal": "datum.value === 'Sander forecast' ? 'M1.06,-0.84L2.74,0.84M1.06,0.84L2.74,-0.84' : datum.value === '95% confidence' ? 'M-1,-0.85H5V0.85H-1Z' : 'M-1,0H5'"},
        "fill": {"signal": "datum.value === '95% confidence' ? '#e6cce6' : 'transparent'"},
        "stroke": {"signal": "datum.value === 'TL' ? '#1f77b4' : datum.value === 'sunrise' ? '#ffff00' : (datum.value === 'Base min' || datum.value === 'Sander forecast') ? '#ff0000' : datum.value === 'Method min' ? '#800080' : datum.value === '95% confidence' ? 'transparent' : '#000000'"},
        "strokeWidth": {"signal": "datum.value === 'Sander forecast' ? 1.5 : 2.08"},
        "opacity": {"value": 1}
      }}}
    }}
 }},
{"data": {"name": "lines"}, "mark": {"type": "line", "strokeWidth": 2.08, "strokeJoin": "round", "clip": true},
 "encoding": {
  "x": {"field": "h", "type": "quantitative", "title": "UTC time [hours]", "scale": {"domain": [1.5, 34.5], "nice": false, "zero": false}},
  "y": {"field": "t", "type": "quantitative", "title": "Temperature [°C]", "scale": {"domain": [3.25, 10.95], "nice": false, "zero": false}},
  "color": {"field": "s", "type": "nominal"},
  "detail": {"field": "s", "type": "nominal"}
 }},
{"data": {"name": "sunrise"}, "mark": {"type": "rule", "strokeWidth": 2.08, "clip": true},
 "encoding": {
  "x": {"field": "h", "type": "quantitative", "title": "UTC time [hours]", "scale": {"domain": [1.5, 34.5], "nice": false, "zero": false}},
  "color": {"field": "s", "type": "nominal"}
 }},
{"data": {"name": "hmin"}, "mark": {"type": "rule", "strokeWidth": 2.08, "clip": true},
 "encoding": {
  "y": {"field": "t", "type": "quantitative", "title": "Temperature [°C]", "scale": {"domain": [3.25, 10.95], "nice": false, "zero": false}},
  "color": {"field": "s", "type": "nominal"}
 }},
{"data": {"name": "grey"}, "mark": {"type": "rule", "strokeWidth": 2.08, "color": "#808080", "clip": true},
 "encoding": {
  "x": {"field": "h", "type": "quantitative", "title": "UTC time [hours]", "scale": {"domain": [1.5, 34.5], "nice": false, "zero": false}}
 }},
{"data": {"name": "sander"}, "mark": {"type": "point", "shape": "M-1,-1L1,1M-1,1L1,-1", "size": 72, "filled": false, "strokeWidth": 1.5, "opacity": 1, "clip": true},
 "encoding": {
  "x": {"field": "h", "type": "quantitative", "title": "UTC time [hours]", "scale": {"domain": [1.5, 34.5], "nice": false, "zero": false}},
  "y": {"field": "t", "type": "quantitative", "title": "Temperature [°C]", "scale": {"domain": [3.25, 10.95], "nice": false, "zero": false}},
  "color": {"field": "s", "type": "nominal"}
 }}
]
}
